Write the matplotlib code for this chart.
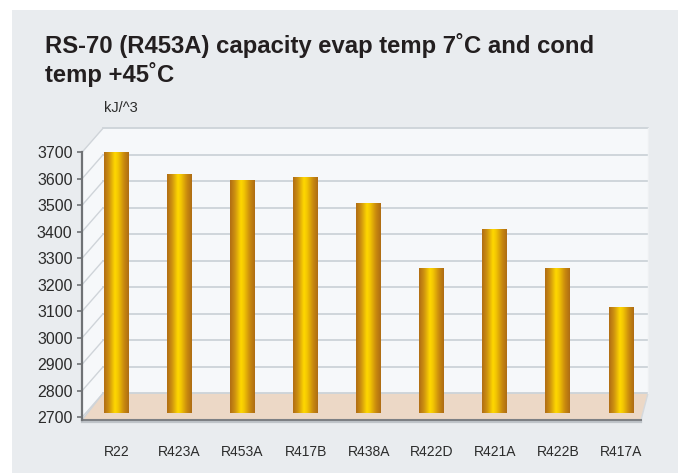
import matplotlib
matplotlib.use("Agg")
import matplotlib.pyplot as plt
import numpy as np
from matplotlib.colors import LinearSegmentedColormap
from matplotlib.patches import Polygon, Rectangle
from matplotlib.lines import Line2D
from matplotlib.transforms import ScaledTranslation
from matplotlib import font_manager

# ---- data -------------------------------------------------------------
refrigerants = ["R22", "R423A", "R453A", "R417B", "R438A",
                "R422D", "R421A", "R422B", "R417A"]
capacity = [3685, 3603, 3580, 3592, 3494, 3248, 3395, 3248, 3101]
y_ticks = [2700, 2800, 2900, 3000, 3100, 3200, 3300, 3400, 3500, 3600, 3700]
title_lines = ["RS-70 (R453A) capacity evap temp 7\u02daC and cond",
               "temp +45\u02daC"]
unit_label = "kJ/^3"

# ---- fonts ------------------------------------------------------------
names = {f.name for f in font_manager.fontManager.ttflist}
has_narrow = "Liberation Sans Narrow" in names
narrow = "Liberation Sans Narrow" if has_narrow else "Liberation Sans"
xlab_size = 11 if has_narrow else 10

# ---- figure -----------------------------------------------------------
W, H, DPI = 684, 473, 100
fig = plt.figure(figsize=(W / DPI, H / DPI), dpi=DPI, facecolor="white")

PANEL = "#e9ecef"
WALL = "#f6f8fa"
FLOOR = "#ecd8c6"
GRID = "#cdd3d8"
SPINE = "#6f7275"
TEXT = "#231f20"

# grey card behind everything
fig.patches.append(Rectangle((12, 0), 666, H - 10, transform=None,
                             facecolor=PANEL, edgecolor="none", zorder=-10))

# plot area (front plane)
x_left, x_right = 82, 641
y_top, y_bot = 152.3, 420.0
ax = fig.add_axes([x_left / W, (H - y_bot) / H,
                   (x_right - x_left) / W, (y_bot - y_top) / H])
ax.patch.set_visible(False)

n = len(refrigerants)
xs = np.arange(n)
xmin, xmax = -0.547, n - 1 + 0.317
ax.set_xlim(xmin, xmax)
ax.set_ylim(2690, 3700)

for s in ["top", "right", "bottom"]:
    ax.spines[s].set_visible(False)
ax.spines["left"].set_color(SPINE)
ax.spines["left"].set_linewidth(1.6)

ax.set_yticks(y_ticks)
ax.set_yticklabels([str(v) for v in y_ticks])
ax.tick_params(axis="y", direction="out", length=3.8, width=1.2, color=SPINE,
               pad=3, labelsize=11.5, labelcolor="#2b2b2b")
for lbl in ax.get_yticklabels():
    lbl.set_fontfamily(narrow)

ax.set_xticks(xs)
ax.set_xticklabels(refrigerants, fontfamily=narrow, fontsize=xlab_size, color="#2b2b2b")
ax.tick_params(axis="x", length=0, pad=18)

fig.canvas.draw()

# depth of the pseudo-3D box (pixels)
DXL, DXR, DY = 21, 7, 24


def px(x, y):
    return ax.transData.transform((x, y))


fx0, fy_bot = px(xmin, 2690)
fx1, _ = px(xmax, 2690)
_, fy2700 = px(xmin, 2700)
_, fy3700 = px(xmin, 3700)

# back wall
bx0, bx1 = fx0 + DXL, fx1 + DXR
back_bot, back_top = fy2700 + DY, fy3700 + DY
fig.patches.append(Rectangle((bx0, back_bot), bx1 - bx0, back_top - back_bot,
                             transform=None, facecolor=WALL, edgecolor="none", zorder=-5))
# left side wall
fig.patches.append(Polygon([(fx0, fy_bot), (bx0, back_bot), (bx0, back_top), (fx0, fy3700)],
                           closed=True, transform=None, facecolor=WALL,
                           edgecolor="none", zorder=-5))
# floor
fig.patches.append(Polygon([(fx0, fy_bot), (fx1, fy_bot), (bx1, back_bot), (bx0, back_bot)],
                           closed=True, transform=None, facecolor=FLOOR,
                           edgecolor="none", zorder=-4))

# gridlines on back wall and diagonals on the side wall
for v in y_ticks:
    _, yv = px(xmin, v)
    fig.lines.append(Line2D([bx0, bx1], [yv + DY, yv + DY], transform=None,
                            color=GRID, lw=1.3, zorder=-3))
    fig.lines.append(Line2D([fx0, bx0], [yv, yv + DY], transform=None,
                            color="#cfd4d9", lw=1.0, zorder=-3))
fig.lines.append(Line2D([fx0, bx0], [fy_bot, back_bot], transform=None,
                        color="#cfd4d9", lw=1.0, zorder=-3))
fig.lines.append(Line2D([fx1, bx1], [fy_bot, back_bot], transform=None,
                        color="#d5d9dd", lw=1.0, zorder=-3))
fig.lines.append(Line2D([bx1, bx1], [back_bot, back_top], transform=None,
                        color="#eef0f2", lw=1.0, zorder=-3))
# front bottom edge with a soft shadow
fig.lines.append(Line2D([fx0, fx1], [fy_bot - 1.5, fy_bot - 1.5], transform=None,
                        color="#bfc4c9", lw=1.6, zorder=-2))
fig.lines.append(Line2D([fx0, fx1], [fy_bot, fy_bot], transform=None,
                        color="#7d8084", lw=1.5, zorder=-2))

# ---- bars, standing slightly behind the front plane ----------------------
bar_shift = ScaledTranslation(0, 4 / DPI, fig.dpi_scale_trans)
bar_trans = ax.transData + bar_shift
bar_w = 0.396
gold = LinearSegmentedColormap.from_list(
    "gold", [(0.0, "#b06c14"), (0.2, "#cd9110"), (0.44, "#ffd900"),
             (0.56, "#f3c703"), (0.8, "#c98a0e"), (1.0, "#ad6b14")])
grad = np.linspace(0, 1, 256).reshape(1, -1)

bars = ax.bar(xs, np.array(capacity) - 2700, bottom=2700, width=bar_w,
              color="#e0a80a", edgecolor="none", transform=bar_trans, zorder=3)
for rect, x, v in zip(bars, xs, capacity):
    im = ax.imshow(grad, cmap=gold, aspect="auto", interpolation="bicubic",
                   extent=(x - bar_w / 2, x + bar_w / 2, 2700, v),
                   transform=bar_trans, zorder=4)
    im.set_clip_path(rect)
ax.set_xlim(xmin, xmax)
ax.set_ylim(2690, 3700)

# ---- titles -----------------------------------------------------------
for line, base in zip(title_lines, [53, 81.7]):
    fig.text(45 / W, 1 - base / H, line,
             fontsize=17.2, fontweight="bold", family="Liberation Sans", color=TEXT,
             va="baseline", ha="left")
fig.text(104 / W, 1 - 111.7 / H, unit_label, fontsize=10.5, family=narrow,
         color="#2b2b2b", va="baseline", ha="left")

fig.savefig("out.png", dpi=DPI, facecolor="white")
